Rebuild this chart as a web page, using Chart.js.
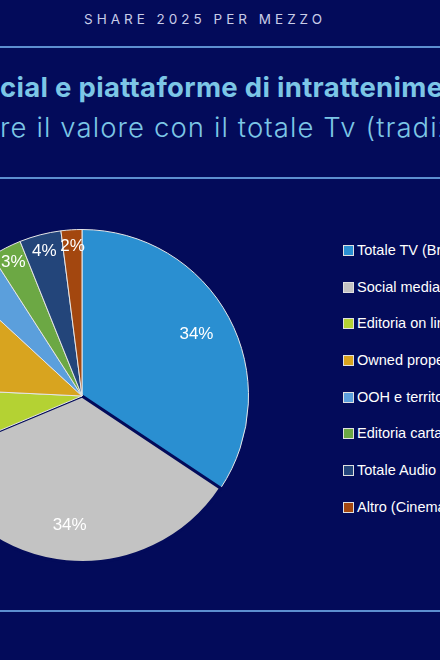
<!DOCTYPE html>
<html><head><meta charset="utf-8">
<script src="https://cdn.jsdelivr.net/npm/chart.js@4"></script>
<style>
body{margin:0;width:440px;height:660px;overflow:hidden;background:#030b5a;font-family:Inter,"Open Sans",sans-serif;position:relative}
.t{position:absolute;white-space:nowrap}
.line{position:absolute;left:0;width:440px;height:2px;background:#5d8fd0}
#hdr{top:11px;left:0;width:410px;text-align:center;color:#c9cde8;font-size:13.5px;letter-spacing:4px}
#title{top:70px;left:0;color:#7cc6e6;font-weight:bold;font-size:27.5px;letter-spacing:0.3px}
#sub{top:110px;left:0;color:#7cc6e6;font-size:27.5px;font-weight:300;letter-spacing:1.1px}
#wrap{position:absolute;left:-88px;top:226px;width:340px;height:340px}
#legend{position:absolute;left:343px;top:242px;color:#fff;font-family:"Liberation Sans",Arial,sans-serif;font-size:14.5px}
#legend div{height:36.7px;white-space:nowrap}
#legend span{display:inline-block;width:9px;height:9px;border:1px solid #e0e0e0;margin-right:3px;vertical-align:-1px}
</style></head><body>
<div class="t" id="hdr">SHARE 2025 PER MEZZO</div>
<div class="line" style="top:46px"></div>
<div class="t" id="title"><span style="position:absolute;right:100%">So</span>cial e piattaforme di intrattenimento</div>
<div class="t" id="sub"><span style="position:absolute;right:100%">Confronta</span>re il valore con il totale Tv (tradizionale)</div>
<div class="line" style="top:177px"></div>
<div id="wrap"><canvas id="pie"></canvas></div>
<div id="legend"></div>
<div class="line" style="top:610px"></div>
<script>
var categories = ['Totale TV (Broadcast + Digital)', 'Social media e piattaforme', 'Editoria on line', 'Owned properties', 'OOH e territorio', 'Editoria cartacea', 'Totale Audio', 'Altro (Cinema, Direct mail)'];
var shares = [34, 34, 7, 11, 4, 3, 4, 2];
var colors = ['#2a8fd1', '#c3c3c3', '#b4d233', '#d8a41f', '#5b9fdc', '#6ca844', '#23457a', '#a3470f'];

var legend = document.getElementById('legend');
categories.forEach(function (c, i) {
  legend.innerHTML += '<div><span style="background:' + colors[i] + '"></span>' + c + '</div>';
});

var labelPlugin = {
  id: 'pct',
  afterDatasetsDraw: function (chart) {
    var ctx = chart.ctx;
    var meta = chart.getDatasetMeta(0);
    ctx.save();
    ctx.fillStyle = '#ffffff';
    ctx.font = '17px "Liberation Sans", Arial, sans-serif';
    ctx.textAlign = 'center';
    ctx.textBaseline = 'middle';
    meta.data.forEach(function (arc, i) {
      var p = arc.getProps(['startAngle', 'endAngle', 'outerRadius', 'x', 'y'], true);
      var a = (p.startAngle + p.endAngle) / 2;
      var r = shares[i] > 10 ? p.outerRadius * 0.78 : p.outerRadius * 0.9;
      ctx.fillText(shares[i] + '%', p.x + Math.cos(a) * r, p.y + Math.sin(a) * r);
    });
    ctx.restore();
  }
};

new Chart(document.getElementById('pie').getContext('2d'), {
  type: 'pie',
  data: {
    labels: categories,
    datasets: [{
      data: shares,
      backgroundColor: colors,
      borderColor: ['#e6e6e6', '#030b5a', '#e6e6e6', '#e6e6e6', '#e6e6e6', '#e6e6e6', '#e6e6e6', '#e6e6e6'],
      borderWidth: [1, 3, 1, 1, 1, 1, 1, 1],
      borderJoinStyle: 'miter'
    }]
  },
  options: {
    responsive: true,
    maintainAspectRatio: true,
    animation: false,
    layout: { padding: 2 },
    plugins: { legend: { display: false }, tooltip: { enabled: false } }
  },
  plugins: [labelPlugin]
});
</script>
</body></html>
